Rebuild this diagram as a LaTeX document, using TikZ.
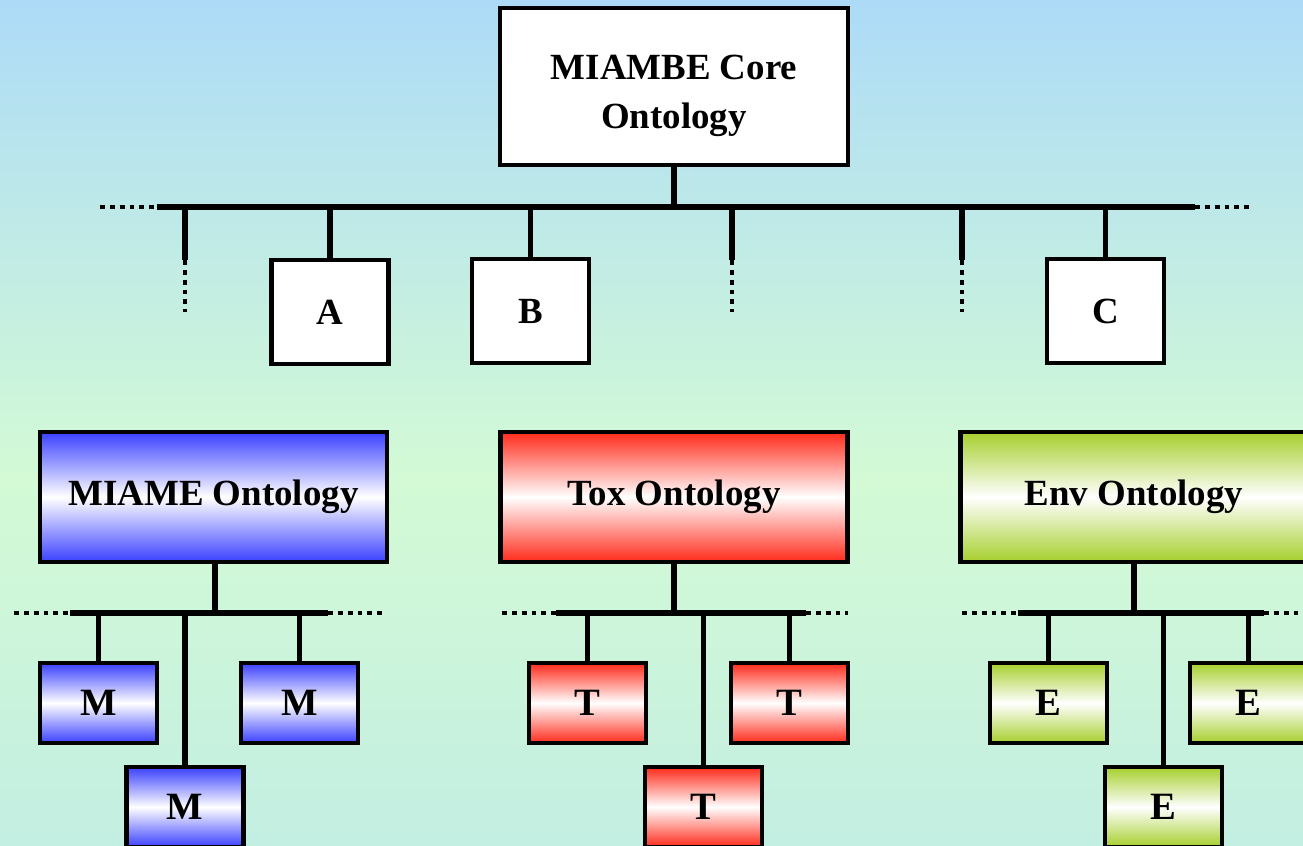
\documentclass[tikz,border=0pt]{standalone}
\usepackage{fontspec}
\setmainfont{Liberation Serif}
\definecolor{skytop}{RGB}{173,219,247}
\definecolor{mintmid}{RGB}{211,250,213}
\definecolor{tealbot}{RGB}{195,238,226}
\definecolor{miameblue}{RGB}{58,64,255}
\definecolor{toxred}{RGB}{255,42,26}
\definecolor{envgreen}{RGB}{166,207,44}
\tikzset{
  onto/.style={draw=black, line width=2.3pt, inner sep=0pt, align=center,
    font=\fontsize{21}{25.5}\selectfont\bfseries},
  bigbox/.style={onto, minimum width=6.94cm, minimum height=2.6cm},
  smallbox/.style={onto, fill=white, minimum width=2.34cm, minimum height=2.08cm},
  leafbox/.style={onto, minimum width=2.34cm, minimum height=1.6cm,
    font=\fontsize{22}{26}\selectfont\bfseries},
  bar/.style={line width=3pt},
  dots/.style={line width=2.8pt, dash pattern=on 2.8pt off 2.8pt},
  blueshade/.style={top color=miameblue, bottom color=miameblue, middle color=white},
  redshade/.style={top color=toxred, bottom color=toxred, middle color=white},
  greenshade/.style={top color=envgreen, bottom color=envgreen, middle color=white}
}
\begin{document}
\begin{tikzpicture}[x=1cm,y=1cm]
  \useasboundingbox (0,0) rectangle (26.06,16.92);
  \clip (0,0) rectangle (26.06,16.92);
  % background
  \shade[top color=skytop, bottom color=mintmid] (0,7.32) rectangle (26.06,16.92);
  \shade[top color=mintmid, bottom color=tealbot] (0,0) rectangle (26.06,7.32);

  % core level
  \node[onto, fill=white, minimum width=6.96cm, minimum height=3.14cm] (core) at (13.48,15.19) {};
  \node[align=center, inner sep=0pt, font=\fontsize{21}{28}\selectfont\bfseries] (corelabel)
    at ([yshift=-0.18cm]core.center) {MIAMBE Core\\Ontology};
  \node[smallbox] (a) at (6.60,10.68) {A};
  \node[smallbox] (b) at (10.61,10.70) {B};
  \node[smallbox] (c) at (22.11,10.70) {C};

  \coordinate (tbus) at (13.48,12.78);
  \coordinate (tbL) at (3.14,12.78);
  \coordinate (tbR) at (23.90,12.78);
  \coordinate (tbLL) at (2.00,12.78);
  \coordinate (tbRR) at (25.00,12.78);
  \draw[bar] (core.south) -- (tbus);
  \draw[bar] (tbL) -- (tbR);
  \draw[dots] (tbLL) -- (tbL);
  \draw[dots] (tbR) -- (tbRR);
  \draw[bar] (a.north) -- (a.north |- tbus);
  \draw[bar] (b.north) -- (b.north |- tbus);
  \draw[bar] (c.north) -- (c.north |- tbus);
  % open branches
  \foreach \x [count=\i] in {3.70,14.64,19.24}{
    \coordinate (br\i) at (\x,11.72);
    \coordinate (be\i) at (\x,10.68);
    \draw[bar] (br\i |- tbus) -- (br\i);
    \draw[dots] (br\i) -- (be\i);
  }

  % MIAME
  \node[bigbox, blueshade] (miame) at (4.27,6.98) {MIAME Ontology};
  \node[leafbox, blueshade] (m1) at (1.97,2.86) {M};
  \node[leafbox, blueshade] (m2) at (5.99,2.86) {M};
  \node[leafbox, blueshade] (m3) at (3.70,0.78) {M};
  \coordinate (mbus) at (4.30,4.66);
  \coordinate (mbL) at (1.40,4.66);
  \coordinate (mbR) at (6.56,4.66);
  \draw[bar] (miame.south -| mbus) -- (mbus);
  \draw[bar] (mbL) -- (mbR);
  \draw[dots] (0.28,4.66) -- (mbL);
  \draw[dots] (mbR) -- (7.74,4.66);
  \draw[bar] (m1.north) -- (m1.north |- mbus);
  \draw[bar] (m2.north) -- (m2.north |- mbus);
  \draw[bar] (m3.north) -- (m3.north |- mbus);

  % Tox
  \node[bigbox, redshade] (tox) at (13.48,6.98) {Tox Ontology};
  \node[leafbox, redshade] (t1) at (11.75,2.86) {T};
  \node[leafbox, redshade] (t2) at (15.79,2.86) {T};
  \node[leafbox, redshade] (t3) at (14.07,0.78) {T};
  \coordinate (xbus) at (13.48,4.66);
  \coordinate (xbL) at (11.12,4.66);
  \coordinate (xbR) at (16.12,4.66);
  \draw[bar] (tox.south) -- (xbus);
  \draw[bar] (xbL) -- (xbR);
  \draw[dots] (10.04,4.66) -- (xbL);
  \draw[dots] (xbR) -- (16.96,4.66);
  \draw[bar] (t1.north) -- (t1.north |- xbus);
  \draw[bar] (t2.north) -- (t2.north |- xbus);
  \draw[bar] (t3.north) -- (t3.north |- xbus);

  % Env
  \node[bigbox, greenshade] (env) at (22.68,6.98) {Env Ontology};
  \node[leafbox, greenshade] (e1) at (20.97,2.86) {E};
  \node[leafbox, greenshade] (e2) at (24.97,2.86) {E};
  \node[leafbox, greenshade] (e3) at (23.27,0.78) {E};
  \coordinate (ebus) at (22.68,4.66);
  \coordinate (ebL) at (20.36,4.66);
  \coordinate (ebR) at (25.28,4.66);
  \draw[bar] (env.south) -- (ebus);
  \draw[bar] (ebL) -- (ebR);
  \draw[dots] (19.24,4.66) -- (ebL);
  \draw[dots] (ebR) -- (26.20,4.66);
  \draw[bar] (e1.north) -- (e1.north |- ebus);
  \draw[bar] (e2.north) -- (e2.north |- ebus);
  \draw[bar] (e3.north) -- (e3.north |- ebus);
\end{tikzpicture}
\end{document}
